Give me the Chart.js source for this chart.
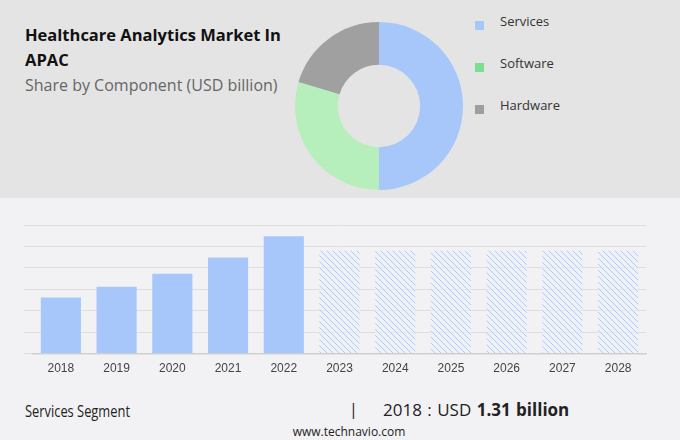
<!DOCTYPE html>
<html>
<head>
<meta charset="utf-8">
<script src="https://cdn.jsdelivr.net/npm/chart.js@4"></script>
<style>
  html, body { margin: 0; padding: 0; }
  body { width: 680px; height: 440px; position: relative; overflow: hidden; background: #f2f2f4; font-family: "Open Sans", "Noto Sans", sans-serif; }
  #top { position: absolute; left: 0; top: 0; width: 680px; height: 198px; background: #e4e4e4; }
  #title { position: absolute; left: 25px; top: 22px; font-size: 16.5px; font-weight: 700; color: #111; line-height: 25px; width: 270px; }
  #subtitle { position: absolute; left: 25px; top: 74px; font-size: 16px; color: #666; }
  #donutBox { position: absolute; left: 295px; top: 22px; width: 168px; height: 168px; }
  .leg { position: absolute; left: 475px; font-size: 13px; color: #333; }
  .leg span { position: absolute; left: 0; top: 4px; width: 9px; height: 9px; }
  .leg b { position: absolute; left: 25px; top: -5px; font-weight: 400; white-space: nowrap; }
  #barBox { position: absolute; left: 0; top: 212px; width: 680px; height: 176px; }
  #seg { position: absolute; left: 25px; top: 399px; font-size: 16.5px; color: #222; transform: scaleX(0.78); transform-origin: left center; white-space: nowrap; }
  #sep { position: absolute; left: 349px; top: 398px; font-size: 16px; color: #222; }
  #val { position: absolute; left: 383px; top: 398px; font-size: 17px; color: #222; word-spacing: 1px; }
  #val b { font-weight: 700; }
  #site { position: absolute; left: 0; width: 698px; text-align: center; top: 423px; font-size: 12px; color: #222; }
</style>
</head>
<body>
<div id="top"></div>
<div id="title">Healthcare Analytics Market In APAC</div>
<div id="subtitle">Share by Component (USD billion)</div>
<div id="donutBox"><canvas id="donut"></canvas></div>
<div class="leg" style="top:17px"><span style="background:#a7c7fa"></span><b>Services</b></div>
<div class="leg" style="top:59px"><span style="background:#79df91"></span><b>Software</b></div>
<div class="leg" style="top:101px"><span style="background:#9e9e9e"></span><b>Hardware</b></div>
<div id="barBox"><canvas id="bars"></canvas></div>
<div id="seg">Services Segment</div>
<div id="sep">|</div>
<div id="val">2018 : USD <b>1.31 billion</b></div>
<div id="site">www.technavio.com</div>
<script>
const components = ["Services", "Software", "Hardware"];
const shares = [50, 29.6, 20.4];
const componentColors = ["#a7c7fa", "#b6efbb", "#a0a0a0"];

const years = ["2018", "2019", "2020", "2021", "2022", "2023", "2024", "2025", "2026", "2027", "2028"];
const values = [1.31, 1.56, 1.86, 2.24, 2.74, 2.4, 2.4, 2.4, 2.4, 2.4, 2.4];
const forecastFrom = 5; // 2023 onwards drawn hatched

// hatched fill for forecast years
function hatch() {
  const c = document.createElement("canvas");
  c.width = 6; c.height = 6;
  const g = c.getContext("2d");
  g.fillStyle = "rgba(235,240,250,0.6)";
  g.fillRect(0, 0, 6, 6);
  g.strokeStyle = "#b3cbf3";
  g.lineWidth = 1;
  g.beginPath();
  g.moveTo(-1, -1); g.lineTo(7, 7);
  g.moveTo(-1, 5); g.lineTo(1, 7);
  g.moveTo(5, -1); g.lineTo(7, 1);
  g.stroke();
  return g.createPattern(c, "repeat");
}
const pattern = hatch();
const barColors = values.map((v, i) => (i < forecastFrom ? "#a7c7fa" : pattern));

new Chart(document.getElementById("donut"), {
  type: "doughnut",
  data: {
    labels: components,
    datasets: [{ data: shares, backgroundColor: componentColors, borderWidth: 0 }],
  },
  options: {
    responsive: true,
    maintainAspectRatio: false,
    animation: false,
    cutout: "49%",
    plugins: { legend: { display: false }, tooltip: { enabled: false } },
  },
});

new Chart(document.getElementById("bars"), {
  type: "bar",
  data: {
    labels: years,
    datasets: [{ data: values, backgroundColor: barColors, borderWidth: 0, barPercentage: 0.72, categoryPercentage: 1 }],
  },
  options: {
    responsive: true,
    maintainAspectRatio: false,
    animation: false,
    layout: { padding: { left: 24, right: 34, top: 13, bottom: 4 } },
    plugins: { legend: { display: false }, tooltip: { enabled: false } },
    scales: {
      y: {
        min: 0, max: 3,
        ticks: { display: false, stepSize: 0.5 },
        grid: { color: "#dedede", drawTicks: true, tickLength: 9 },
        border: { display: false },
      },
      x: {
        grid: { display: false, drawTicks: false },
        border: { display: true, color: "#cfcfcf", width: 1.5 },
        ticks: { color: "#444", padding: 8, font: { family: "Liberation Sans, Arial", size: 12 } },
      },
    },
  },
});
</script>
</body>
</html>
